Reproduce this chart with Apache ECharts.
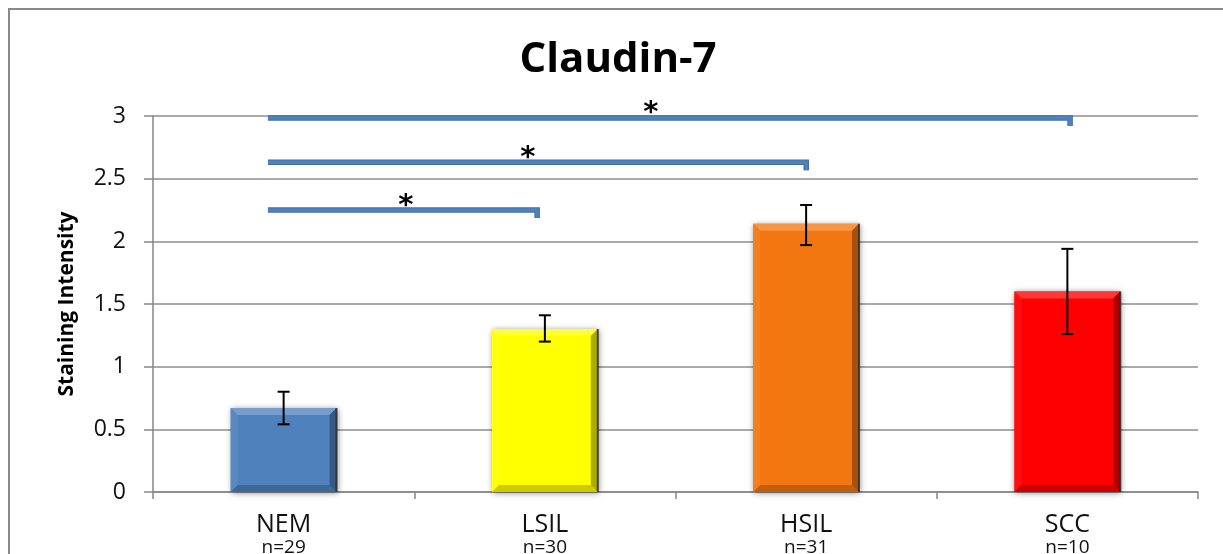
<!DOCTYPE html>
<html>
<head>
<meta charset="utf-8">
<script src="https://cdn.jsdelivr.net/npm/echarts@6/dist/echarts.min.js"></script>
<style>
html,body{margin:0;padding:0;background:#fff;}
#chart{width:1223px;height:554px;}
</style>
</head>
<body>
<div id="chart"></div>
<script>
// ---- data ----
const categories = ['NEM', 'LSIL', 'HSIL', 'SCC'];
const sampleSizes = ['n=29', 'n=30', 'n=31', 'n=10'];
const means = [0.67, 1.30, 2.14, 1.60];
const errLow = [0.54, 1.20, 1.97, 1.26];
const errHigh = [0.80, 1.41, 2.29, 1.94];
const barColors = ['#4F81BD', '#FFFF00', '#F27711', '#FF0000'];
// significance brackets (positions on a category-index scale)
const bracketStart = [-0.06, -0.06, -0.06];
const bracketEnd = [0.98, 2.01, 3.02];
const bracketLevel = [2.25, 2.63, 2.985];
const starPos = [0.468, 0.935, 1.406];
const starText = ['*', '*', '*'];
const yMin = 0, yMax = 3, yStep = 0.5;

const FONT = '"Open Sans", "DejaVu Sans", sans-serif';

function shade(hex, f) {
  const n = parseInt(hex.slice(1), 16);
  let r = (n >> 16) & 255, g = (n >> 8) & 255, b = n & 255;
  if (f >= 0) { r += (255 - r) * f; g += (255 - g) * f; b += (255 - b) * f; }
  else { r *= (1 + f); g *= (1 + f); b *= (1 + f); }
  return 'rgb(' + Math.round(r) + ',' + Math.round(g) + ',' + Math.round(b) + ')';
}

const BAR_FRAC = 0.405;

const barData = means.map((v, i) => ({ value: v, itemStyle: { color: barColors[i] } }));
const bevelData = means.map((v, i) => [i, v]);
const errData = means.map((v, i) => [i, errLow[i], errHigh[i]]);
const bracketData = bracketLevel.map((lv, i) => [bracketStart[i], bracketEnd[i], lv, starPos[i]]);

const chart = echarts.init(document.getElementById('chart'), null, { renderer: 'canvas' });

const option = {
  animation: false,
  backgroundColor: '#ffffff',
  graphic: [
    { type: 'rect', shape: { x: 9, y: 9, width: 1260, height: 600 }, style: { fill: 'none', stroke: '#8a8a8a', lineWidth: 2 }, z: 0 },
    { type: 'text', x: 618, y: 60, style: { text: 'Claudin-7', fontSize: 42, fontWeight: 'bold', fontFamily: FONT, fill: '#000', align: 'center', verticalAlign: 'middle' }, z: 10 }
  ],
  grid: { left: 153, right: 25, top: 116, bottom: 62, containLabel: false, outerBoundsMode: 'none' },
  xAxis: [
    {
      type: 'category',
      data: categories,
      axisLine: { lineStyle: { color: '#868686', width: 1.5 } },
      axisTick: { show: true, length: 7, lineStyle: { color: '#868686', width: 1.5 } },
      axisLabel: {
        margin: 20,
        formatter: function (val, idx) { return '{a|' + val + '}\n{b|' + sampleSizes[idx] + '}'; },
        rich: {
          a: { fontSize: 25, fontFamily: FONT, color: '#111', lineHeight: 26 },
          b: { fontSize: 19, fontFamily: FONT, color: '#111', lineHeight: 20 }
        }
      }
    },
    { type: 'value', min: -0.5, max: 3.5, show: false }
  ],
  yAxis: {
    type: 'value',
    min: yMin, max: yMax, interval: yStep,
    name: 'Staining Intensity',
    nameLocation: 'middle',
    nameRotate: 90,
    nameGap: 75,
    nameTextStyle: { fontSize: 21, fontWeight: 'bold', fontFamily: FONT, color: '#000' },
    axisLine: { show: true, onZero: false, lineStyle: { color: '#868686', width: 1.5 } },
    axisTick: { show: true, length: 9, lineStyle: { color: '#868686', width: 1.5 } },
    axisLabel: { margin: 27, fontSize: 23, fontFamily: FONT, color: '#111' },
    splitLine: { lineStyle: { color: '#8e8e8e', width: 1.5 } }
  },
  series: [
    {
      type: 'bar',
      data: barData,
      barWidth: (BAR_FRAC * 100) + '%',
      itemStyle: { shadowColor: 'rgba(0,0,0,0.45)', shadowBlur: 6, shadowOffsetX: 1, shadowOffsetY: 1 },
      z: 2
    },
    {
      type: 'custom',
      data: bevelData,
      encode: { x: 0, y: 1 },
      z: 3,
      silent: true,
      renderItem: function (params, api) {
        const i = api.value(0), v = api.value(1);
        const top = api.coord([i, v]);
        const base = api.coord([i, 0]);
        const bw = api.size([1, 0])[0] * BAR_FRAC;
        const x0 = top[0] - bw / 2, x1 = top[0] + bw / 2;
        const y0 = top[1], y1 = base[1];
        const b = 7;
        const c = barColors[i];
        return {
          type: 'group',
          children: [
            { type: 'polygon', shape: { points: [[x0, y0], [x1, y0], [x1 - b, y0 + b], [x0 + b, y0 + b]] }, style: { fill: shade(c, 0.22) } },
            { type: 'polygon', shape: { points: [[x0, y0], [x0 + b, y0 + b], [x0 + b, y1 - b], [x0, y1]] }, style: { fill: shade(c, 0.06) } },
            { type: 'polygon', shape: { points: [[x0, y1], [x1, y1], [x1 - b, y1 - b], [x0 + b, y1 - b]] }, style: { fill: shade(c, -0.2) } },
            { type: 'polygon', shape: { points: [[x1, y0], [x1, y1], [x1 - b, y1 - b], [x1 - b, y0 + b]] }, style: { fill: shade(c, -0.32) } },
            { type: 'line', shape: { x1: x1, y1: y0, x2: x1, y2: y1 }, style: { stroke: 'rgba(40,40,40,0.8)', lineWidth: 2 } }
          ]
        };
      }
    },
    {
      type: 'custom',
      data: errData,
      encode: { x: 0, y: [1, 2] },
      z: 4,
      silent: true,
      renderItem: function (params, api) {
        const i = api.value(0);
        const lo = api.coord([i, api.value(1)]);
        const hi = api.coord([i, api.value(2)]);
        const x = lo[0], cw = 6;
        const st = { stroke: '#000', lineWidth: 2 };
        return {
          type: 'group',
          children: [
            { type: 'line', shape: { x1: x, y1: lo[1], x2: x, y2: hi[1] }, style: st },
            { type: 'line', shape: { x1: x - cw, y1: lo[1], x2: x + cw, y2: lo[1] }, style: st },
            { type: 'line', shape: { x1: x - cw, y1: hi[1], x2: x + cw, y2: hi[1] }, style: st }
          ]
        };
      }
    },
    {
      type: 'custom',
      xAxisIndex: 1,
      data: bracketData,
      encode: { x: [0, 1], y: 2 },
      z: 5,
      silent: true,
      renderItem: function (params, api) {
        const idx = params.dataIndex;
        const p0 = api.coord([api.value(0), api.value(2)]);
        const p1 = api.coord([api.value(1), api.value(2)]);
        const ps = api.coord([api.value(3), api.value(2)]);
        const y = p0[1];
        const xe = p1[0] - 2.5;
        const pts = [[p0[0], y], [xe, y], [xe, y + 8]];
        return {
          type: 'group',
          children: [
            { type: 'polyline', shape: { points: pts }, style: { stroke: '#3D6DA4', lineWidth: 5.5, fill: null, lineJoin: 'miter', lineCap: 'butt' } },
            { type: 'polyline', shape: { points: pts }, style: { stroke: '#4F81BD', lineWidth: 3.5, fill: null, lineJoin: 'miter', lineCap: 'butt' } },
            { type: 'text', x: ps[0], y: y - 4, style: { text: starText[idx], fontSize: 29, fontWeight: 'bold', fontFamily: '"DejaVu Sans", sans-serif', fill: '#000', align: 'center', verticalAlign: 'middle' } }
          ]
        };
      }
    }
  ]
};

chart.setOption(option);
</script>
</body>
</html>
